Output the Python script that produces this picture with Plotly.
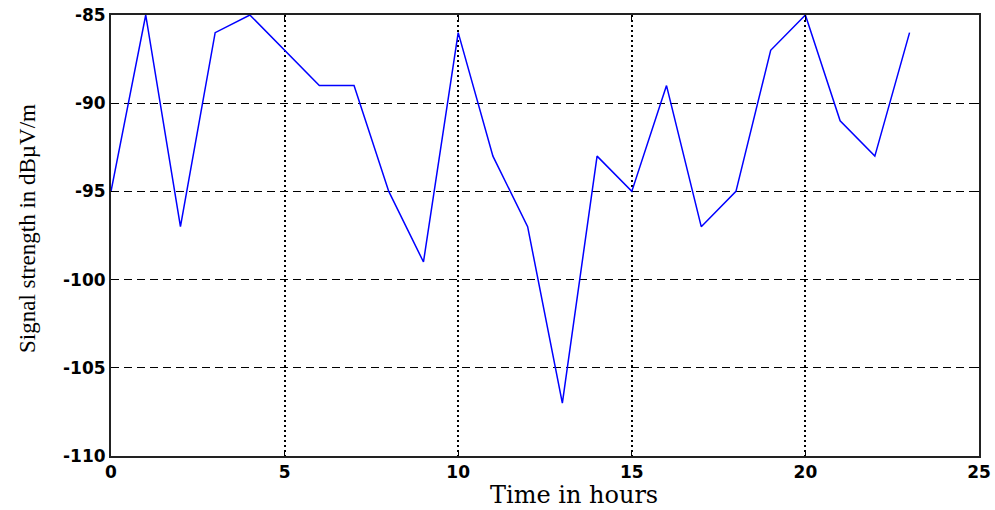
import plotly.graph_objects as go

hours = list(range(0, 24))
signal = [-95, -85, -97, -86, -85, -87, -89, -89, -95, -99, -86, -93,
          -97, -107, -93, -95, -89, -97, -95, -87, -85, -91, -93, -86]

x_ticks = [0, 5, 10, 15, 20, 25]
y_ticks = [-110, -105, -100, -95, -90, -85]

x_title = "Time in hours"
y_title = "Signal strength in dBµV/m"

fig = go.Figure()
fig.add_trace(go.Scatter(x=hours, y=signal, mode="lines",
                         line=dict(color="#0000FF", width=1.5),
                         showlegend=False, cliponaxis=False))

tickfont = dict(family="DejaVu Sans", size=17, color="black", weight="bold")

L, R, T, B = 111, 16, 15, 54
W, H = 995, 510
pw, ph = W - L - R, H - T - B

fig.update_layout(
    width=W, height=H,
    margin=dict(l=L, r=R, t=T, b=B, autoexpand=False),
    paper_bgcolor="white", plot_bgcolor="white",
    xaxis=dict(range=[0, 25], tickvals=x_ticks, ticktext=[str(v) for v in x_ticks],
               showgrid=True, gridcolor="black", gridwidth=1.5, griddash="2px,3px",
               showline=True, linecolor="#222", linewidth=2, mirror="ticks",
               ticks="inside", ticklen=6, tickcolor="black", tickwidth=1,
               zeroline=False, tickfont=tickfont, automargin=False),
    yaxis=dict(range=[-110, -85], tickvals=y_ticks, ticktext=[str(v) for v in y_ticks],
               showgrid=True, gridcolor="black", gridwidth=1.2, griddash="8px,5px",
               showline=True, linecolor="#222", linewidth=2, mirror="ticks",
               ticks="inside", ticklen=6, tickcolor="black", tickwidth=1,
               zeroline=False, tickfont=tickfont, automargin=False),
    annotations=[
        dict(text=x_title, xref="paper", yref="paper",
             x=(574 - L) / pw, y=(H - B - 495) / ph, yanchor="middle",
             xanchor="center", showarrow=False,
             font=dict(family="DejaVu Serif", size=24, color="black")),
        dict(text=y_title, xref="paper", yref="paper", textangle=-90,
             x=(27 - L) / pw, y=(H - B - 229) / ph, xanchor="center", yanchor="middle",
             showarrow=False,
             font=dict(family="Liberation Serif", size=23, color="black")),
    ],
)

fig.write_html("out.html", config={"displayModeBar": False},
               post_script="document.body.style.margin='0';")
